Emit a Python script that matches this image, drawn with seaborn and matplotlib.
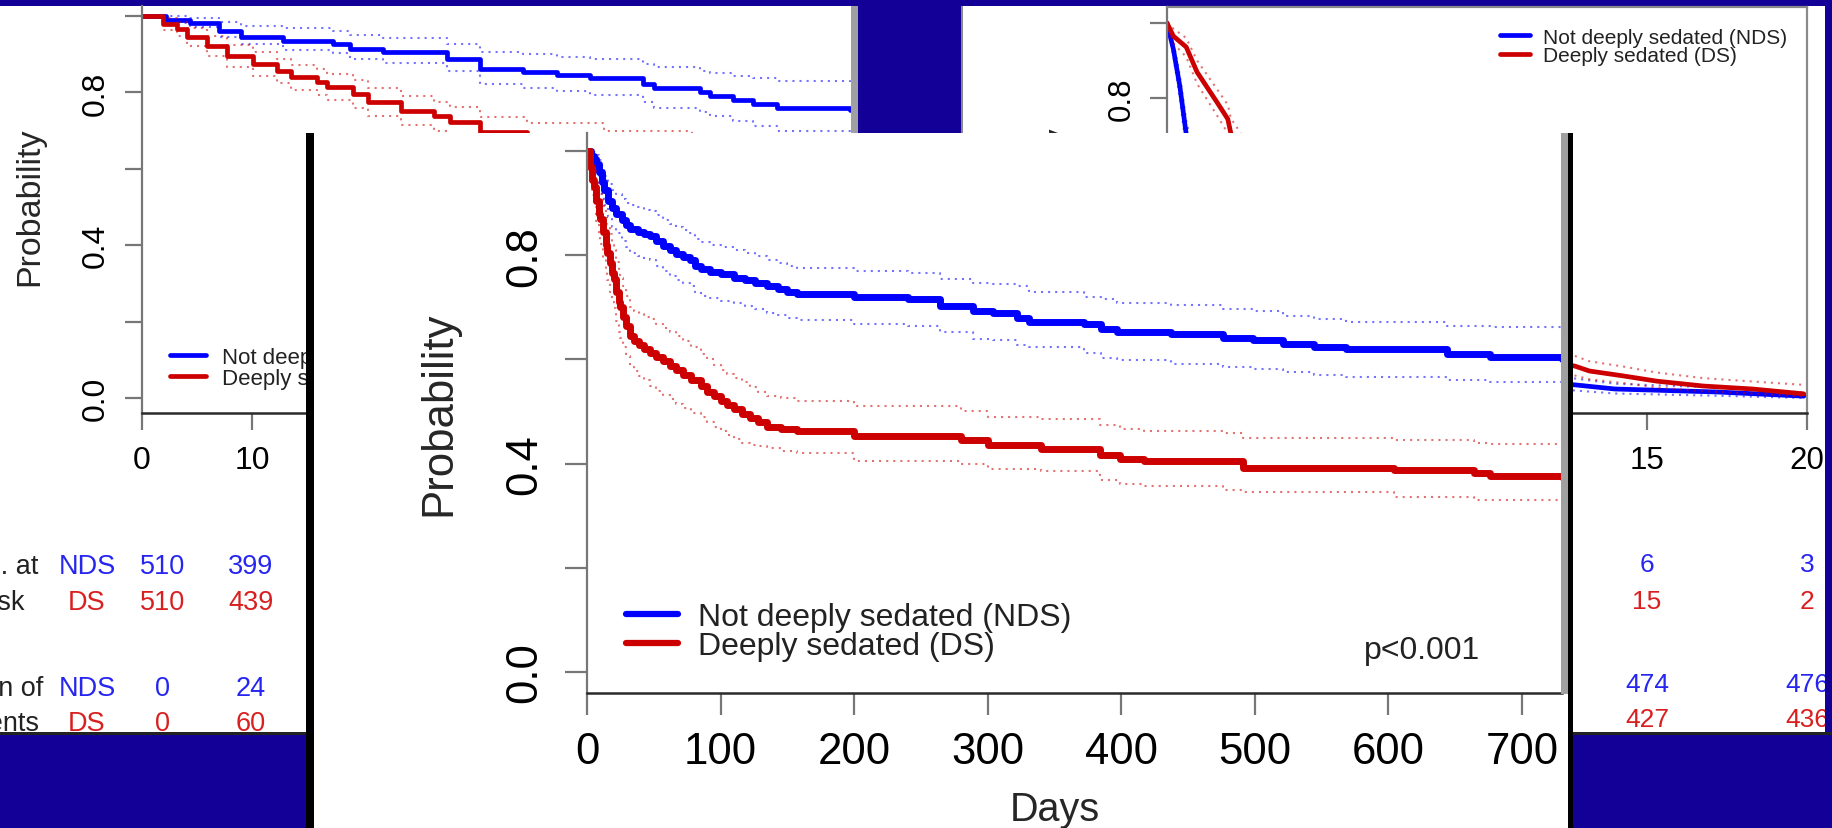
import numpy as np
import pandas as pd
import matplotlib
matplotlib.use("Agg")
import matplotlib.pyplot as plt
import seaborn as sns
from matplotlib.patches import Rectangle
from matplotlib.lines import Line2D
from matplotlib.transforms import blended_transform_factory

# ---- data ----

# left panel (days 0-64)
t_nds_l = [0, 2.2, 4.4, 7.0, 9.0, 12.8, 17.4, 18.9, 21.9, 27.7, 30.7, 34.6, 37.7, 40.7, 45.5, 46.5, 50.7, 51.6, 53.7, 55.5, 57.7, 64.4]
p_nds_l = [1.0, 0.990, 0.983, 0.960, 0.945, 0.935, 0.928, 0.914, 0.905, 0.887, 0.861, 0.853, 0.846, 0.837, 0.822, 0.811, 0.801, 0.790, 0.780, 0.770, 0.759, 0.755]
hi_nds_l = [1.0, 1.0, 0.995, 0.985, 0.975, 0.968, 0.962, 0.950, 0.943, 0.928, 0.906, 0.900, 0.893, 0.887, 0.874, 0.866, 0.857, 0.850, 0.843, 0.838, 0.830, 0.828]
lo_nds_l = [1.0, 0.981, 0.971, 0.944, 0.926, 0.912, 0.902, 0.887, 0.876, 0.855, 0.822, 0.812, 0.804, 0.792, 0.775, 0.760, 0.750, 0.738, 0.725, 0.712, 0.698, 0.690]

t_ds_l = [0, 1.9, 3.2, 4.1, 5.9, 7.7, 10.1, 12.3, 13.5, 15.9, 16.8, 19.2, 20.5, 23.5, 26.5, 28.0, 30.7, 35, 42, 50, 58, 64.4]
p_ds_l = [1.0, 0.979, 0.966, 0.945, 0.922, 0.896, 0.874, 0.856, 0.840, 0.827, 0.814, 0.796, 0.775, 0.752, 0.738, 0.722, 0.696, 0.68, 0.66, 0.64, 0.62, 0.61]
hi_ds_l = [1.0, 0.995, 0.985, 0.968, 0.948, 0.925, 0.905, 0.888, 0.873, 0.861, 0.849, 0.832, 0.812, 0.790, 0.776, 0.761, 0.735, 0.72, 0.70, 0.68, 0.66, 0.65]
lo_ds_l = [1.0, 0.963, 0.947, 0.922, 0.896, 0.867, 0.843, 0.824, 0.807, 0.793, 0.779, 0.760, 0.738, 0.714, 0.700, 0.683, 0.657, 0.64, 0.62, 0.60, 0.58, 0.57]

# middle panel (days 0-730)
t_nds = [0, 3, 5, 7, 9, 11, 13, 16, 19, 22,
         26, 29, 32, 38, 43, 47, 52, 57, 62, 67,
         72, 77, 81, 85, 92, 100, 110, 118, 126, 135,
         143, 150, 157, 200, 240, 264, 289, 304, 322, 331,
         372, 385, 397, 437, 476, 499, 521, 544, 568, 644,
         676, 730]
p_nds = [1.0, 0.99, 0.985, 0.975, 0.96, 0.94, 0.925, 0.905, 0.89, 0.88,
         0.868, 0.858, 0.85, 0.845, 0.84, 0.837, 0.828, 0.818, 0.81, 0.803,
         0.797, 0.79, 0.78, 0.773, 0.768, 0.763, 0.757, 0.752, 0.746, 0.74,
         0.735, 0.73, 0.725, 0.72, 0.715, 0.702, 0.692, 0.69, 0.68, 0.671,
         0.667, 0.658, 0.652, 0.648, 0.642, 0.638, 0.629, 0.623, 0.619, 0.61,
         0.604, 0.60]
hi_nds = [1.0, 1.0, 0.998, 0.992, 0.982, 0.966, 0.953, 0.937, 0.925, 0.917,
          0.908, 0.9, 0.896, 0.892, 0.887, 0.885, 0.877, 0.868, 0.86, 0.854,
          0.848, 0.842, 0.832, 0.825, 0.82, 0.815, 0.81, 0.805, 0.798, 0.79,
          0.785, 0.78, 0.775, 0.77, 0.765, 0.754, 0.746, 0.744, 0.74, 0.73,
          0.72, 0.715, 0.708, 0.704, 0.696, 0.692, 0.684, 0.677, 0.672, 0.665,
          0.663, 0.655]
lo_nds = [1.0, 0.98, 0.972, 0.958, 0.938, 0.914, 0.897, 0.873, 0.855, 0.843,
          0.828, 0.816, 0.805, 0.799, 0.793, 0.79, 0.78, 0.77, 0.761, 0.753,
          0.747, 0.74, 0.729, 0.722, 0.717, 0.713, 0.709, 0.703, 0.696, 0.69,
          0.685, 0.68, 0.675, 0.668, 0.664, 0.652, 0.64, 0.637, 0.628, 0.623,
          0.612, 0.602, 0.598, 0.592, 0.585, 0.582, 0.575, 0.571, 0.567, 0.56,
          0.556, 0.552]

t_ds = [0, 2, 4, 5, 7, 9, 10, 12, 14, 15,
        17, 19, 20, 22, 24, 25, 27, 29, 32, 35,
        39, 43, 47, 52, 57, 62, 67, 72, 78, 85,
        90, 95, 100, 105, 110, 116, 122, 128, 135, 145,
        157, 200, 280, 300, 340, 384, 399, 417, 476, 491,
        604, 664, 676, 730]
p_ds = [1.0, 0.97, 0.945, 0.93, 0.905, 0.88, 0.87, 0.845, 0.82, 0.805,
        0.785, 0.765, 0.754, 0.73, 0.71, 0.70, 0.682, 0.665, 0.644, 0.635,
        0.627, 0.62, 0.613, 0.604, 0.596, 0.588, 0.58, 0.571, 0.56, 0.548,
        0.538, 0.529, 0.52, 0.512, 0.504, 0.495, 0.487, 0.479, 0.471, 0.467,
        0.462, 0.452, 0.445, 0.435, 0.428, 0.417, 0.408, 0.404, 0.404, 0.392,
        0.388, 0.382, 0.377, 0.375]
hi_ds = [1.0, 0.99, 0.975, 0.965, 0.945, 0.925, 0.918, 0.895, 0.872, 0.858,
         0.84, 0.82, 0.81, 0.787, 0.767, 0.757, 0.74, 0.722, 0.70, 0.693,
         0.687, 0.682, 0.677, 0.668, 0.66, 0.652, 0.645, 0.635, 0.623, 0.61,
         0.6, 0.59, 0.58, 0.572, 0.565, 0.556, 0.547, 0.538, 0.529, 0.525,
         0.52, 0.51, 0.5, 0.49, 0.485, 0.475, 0.466, 0.462, 0.458, 0.45,
         0.445, 0.44, 0.437, 0.435]
lo_ds = [1.0, 0.95, 0.915, 0.895, 0.865, 0.835, 0.822, 0.795, 0.768, 0.752,
         0.73, 0.71, 0.698, 0.673, 0.653, 0.642, 0.624, 0.607, 0.586, 0.577,
         0.568, 0.56, 0.548, 0.54, 0.532, 0.524, 0.515, 0.506, 0.497, 0.49,
         0.48, 0.47, 0.462, 0.455, 0.447, 0.44, 0.436, 0.433, 0.43, 0.425,
         0.421, 0.405, 0.40, 0.39, 0.385, 0.369, 0.36, 0.357, 0.35, 0.345,
         0.335, 0.33, 0.33, 0.328]

# right panel (days 0-20)
t_nds_r = [0, 0.2, 0.4, 0.6, 1.0, 2, 4, 6, 8, 10, 12.75, 14, 17.2, 19.9]
p_nds_r = [1.0, 0.93, 0.832, 0.704, 0.55, 0.35, 0.2, 0.12, 0.08, 0.05, 0.035, 0.024, 0.016, 0.005]
hi_nds_r = [1.0, 0.95, 0.86, 0.74, 0.59, 0.39, 0.235, 0.145, 0.10, 0.068, 0.052, 0.038, 0.028, 0.015]
lo_nds_r = [1.0, 0.91, 0.80, 0.665, 0.51, 0.31, 0.165, 0.095, 0.058, 0.033, 0.02, 0.012, 0.006, 0.0]

t_ds_r = [0, 0.2, 0.6, 0.94, 1.25, 1.56, 1.9, 2.0, 4, 6, 8, 10, 12.75, 13.2, 14.25, 15.3, 16.75, 18.3, 19.9]
p_ds_r = [1.0, 0.965, 0.936, 0.869, 0.829, 0.789, 0.744, 0.704, 0.45, 0.3, 0.2, 0.13, 0.085, 0.072, 0.059, 0.045, 0.032, 0.024, 0.011]
hi_ds_r = [1.0, 0.985, 0.96, 0.90, 0.862, 0.824, 0.782, 0.745, 0.49, 0.34, 0.235, 0.16, 0.112, 0.098, 0.084, 0.068, 0.053, 0.044, 0.035]
lo_ds_r = [1.0, 0.945, 0.91, 0.838, 0.796, 0.754, 0.706, 0.665, 0.41, 0.26, 0.165, 0.10, 0.06, 0.05, 0.04, 0.028, 0.018, 0.012, 0.004]

# at-risk / event tables
days_left_tab = [1.9, 9.9]
risk_nds_l = [510, 399]
risk_ds_l = [510, 439]
ev_nds_l = [0, 24]
ev_ds_l = [0, 60]
days_right_tab = [15, 20]
risk_nds_r = [6, 3]
risk_ds_r = [15, 2]
ev_nds_r = [474, 476]
ev_ds_r = [427, 436]

labels = ["Not deeply sedated (NDS)", "Deeply sedated (DS)"]

# ---- layout ----
W, H = 1833, 829
sns.set_theme(style="ticks")
plt.rcParams['font.family'] = ['Liberation Sans', 'DejaVu Sans']

BLUE = '#0000ff'
RED = '#cc0000'
TBLUE = '#2626f0'
TRED = '#d82020'
SLIDE = '#130096'

fig = plt.figure(figsize=(W / 100, H / 100), dpi=100, facecolor=SLIDE)


def rect(x0, y0, x1, y1):
    return [x0 / W, 1 - y1 / H, (x1 - x0) / W, (y1 - y0) / H]


def box(x0, y0, x1, y1, color, z):
    fig.add_artist(Rectangle((x0 / W, 1 - y1 / H), (x1 - x0) / W, (y1 - y0) / H,
                             transform=fig.transFigure, facecolor=color,
                             edgecolor='none', zorder=z))


def fy(y):
    return 1 - y / H


def km(ax, t, p, lo, hi, color, lw, step=True):
    ds = 'steps-post' if step else 'default'
    for band in (lo, hi):
        sns.lineplot(x=t, y=band, ax=ax, color=color, lw=1.5, linestyle=(0, (1, 2.4)),
                     alpha=0.55, drawstyle=ds, estimator=None, sort=False, legend=False)
    sns.lineplot(x=t, y=p, ax=ax, color=color, lw=lw, drawstyle=ds,
                 estimator=None, sort=False, legend=False)


def style(ax, fs, tlen, ypad, xpad):
    ax.set_facecolor('white')
    for s in ['top', 'right']:
        ax.spines[s].set_visible(False)
    ax.spines['left'].set_color('#777777')
    ax.spines['left'].set_linewidth(1.6)
    ax.spines['bottom'].set_color('#2a2a2a')
    ax.spines['bottom'].set_linewidth(1.8)
    ax.tick_params(axis='both', direction='out', length=tlen, width=1.6,
                   color='#777777', labelsize=fs, labelcolor='black',
                   left=True, bottom=True)
    ax.tick_params(axis='y', pad=ypad)
    ax.tick_params(axis='x', pad=xpad)
    ax.set_yticks([0, 0.2, 0.4, 0.6, 0.8, 1.0])
    ax.set_yticklabels(['0.0', '', '0.4', '', '0.8', ''], rotation=90, va='center')
    ax.set_xlabel('')
    ax.set_ylabel('')


def legend(ax, x, y, fs, hl, pad, sp, lw):
    hs = [Line2D([], [], color=BLUE, lw=lw), Line2D([], [], color=RED, lw=lw)]
    leg = ax.legend(hs, labels, loc='center left', bbox_to_anchor=(x / W, fy(y)),
                    bbox_transform=fig.transFigure, frameon=False, fontsize=fs,
                    handlelength=hl, handletextpad=pad, labelspacing=sp,
                    borderpad=0, borderaxespad=0)
    for tx in leg.get_texts():
        tx.set_color('#222222')


# ---- left panel ----
box(0, 7, 851, 735, 'white', 1)
box(851, 7, 858, 735, '#a0a0a0', 2.2)
ax_l = fig.add_axes(rect(142, 7, 851, 414), zorder=2)
km(ax_l, t_nds_l, p_nds_l, lo_nds_l, hi_nds_l, BLUE, 3.4)
km(ax_l, t_ds_l, p_ds_l, lo_ds_l, hi_ds_l, RED, 3.4)
ax_l.set_xlim(0, 64.45)
ax_l.set_ylim(-0.0393, 1.0262)
style(ax_l, 23, 12, 10.5, 11)
ax_l.set_xticks([0, 10, 20, 30, 40, 50, 60])
ax_l.set_ylabel('Probability', fontsize=24.5, va='center')
ax_l.yaxis.set_label_coords(-0.158, 0.509)
legend(ax_l, 170, 369, 16, 1.6, 0.75, -0.01, 3.4)

trl = blended_transform_factory(ax_l.transData, fig.transFigure)
for vals, y, c in [(risk_nds_l, 567, TBLUE), (risk_ds_l, 603, TRED),
                   (ev_nds_l, 689, TBLUE), (ev_ds_l, 724, TRED)]:
    for d, v in zip(days_left_tab, vals):
        ax_l.text(d, fy(y), str(v), transform=trl, ha='center', va='center',
                  fontsize=19.5, color=c, clip_on=False)
for s, y, c in [('NDS', 567, TBLUE), ('DS', 603, TRED), ('NDS', 689, TBLUE), ('DS', 724, TRED)]:
    fig.text(87 / W, fy(y), s, ha='center', va='center', fontsize=19.5, color=c, zorder=2.1)
for s, x, y in [('No. at', 38, 567), ('risk', 25, 603), ('Cum. n of', 43, 689), ('events', 40, 724)]:
    fig.text(x / W, fy(y), s, ha='right', va='center', fontsize=19.5, color='#222222', zorder=2.1)

# ---- right panel ----
box(963, 7, 1825, 735, 'white', 1)
box(961, 7, 963, 735, '#8a8a8a', 1.1)
ax_r = fig.add_axes(rect(1167, 8, 1807, 414), zorder=2)
km(ax_r, t_nds_r, p_nds_r, lo_nds_r, hi_nds_r, BLUE, 3.4, step=False)
km(ax_r, t_ds_r, p_ds_r, lo_ds_r, hi_ds_r, RED, 3.4, step=False)
ax_r.set_xlim(0, 20)
ax_r.set_ylim(-0.04, 1.0427)
style(ax_r, 22.5, 12, 10, 11)
for s in ['top', 'right']:
    ax_r.spines[s].set_visible(True)
    ax_r.spines[s].set_color('#8a8a8a')
    ax_r.spines[s].set_linewidth(1.6)
ax_r.set_xticks([0, 5, 10, 15, 20])
ax_r.set_ylabel('Probability', fontsize=24.5, va='center')
ax_r.yaxis.set_label_coords(-0.172, 0.515)
legend(ax_r, 1500, 47.5, 15, 1.43, 0.62, 0.0, 3.4)

trr = blended_transform_factory(ax_r.transData, fig.transFigure)
for vals, y, c in [(risk_nds_r, 565, TBLUE), (risk_ds_r, 602, TRED),
                   (ev_nds_r, 685, TBLUE), (ev_ds_r, 720, TRED)]:
    for d, v in zip(days_right_tab, vals):
        ax_r.text(d, fy(y), str(v), transform=trr, ha='center', va='center',
                  fontsize=19, color=c, clip_on=False)

# slide background showing around the side panels
box(1825, 0, 1833, 829, SLIDE, 2.5)
box(0, 735, 1833, 829, SLIDE, 2.5)
box(0, 733, 1833, 736, '#222222', 2.6)

# ---- middle panel ----
box(306, 134, 1573, 829, 'black', 3)
box(314, 134, 1568, 829, 'white', 3.1)
ax_m = fig.add_axes(rect(587, 134, 1562, 694), zorder=4)
km(ax_m, t_nds, p_nds, lo_nds, hi_nds, BLUE, 5.0)
km(ax_m, t_ds, p_ds, lo_ds, hi_ds, RED, 5.0)
ax_m.set_xlim(0, 730)
ax_m.set_ylim(-0.0404, 1.0346)
style(ax_m, 31.5, 16, 14.4, 11)
ax_m.set_xticks([0, 100, 200, 300, 400, 500, 600, 700])
ax_m.set_ylabel('Probability', fontsize=31.5, va='center')
ax_m.yaxis.set_label_coords(-0.1518, 0.5)
ax_m.set_xlabel('Days', fontsize=28.5, va='center')
ax_m.xaxis.set_label_coords(0.48, -0.207)
legend(ax_m, 626, 632.5, 23, 1.63, 0.62, -0.03, 4.5)
ax_m.text(0.857, 0.077, 'p<0.001', transform=ax_m.transAxes, ha='center',
          va='center', fontsize=23, color='#222222')
box(1561, 134, 1568, 695, '#a0a0a0', 5)

fig.savefig('out.png', dpi=100, facecolor=SLIDE)
